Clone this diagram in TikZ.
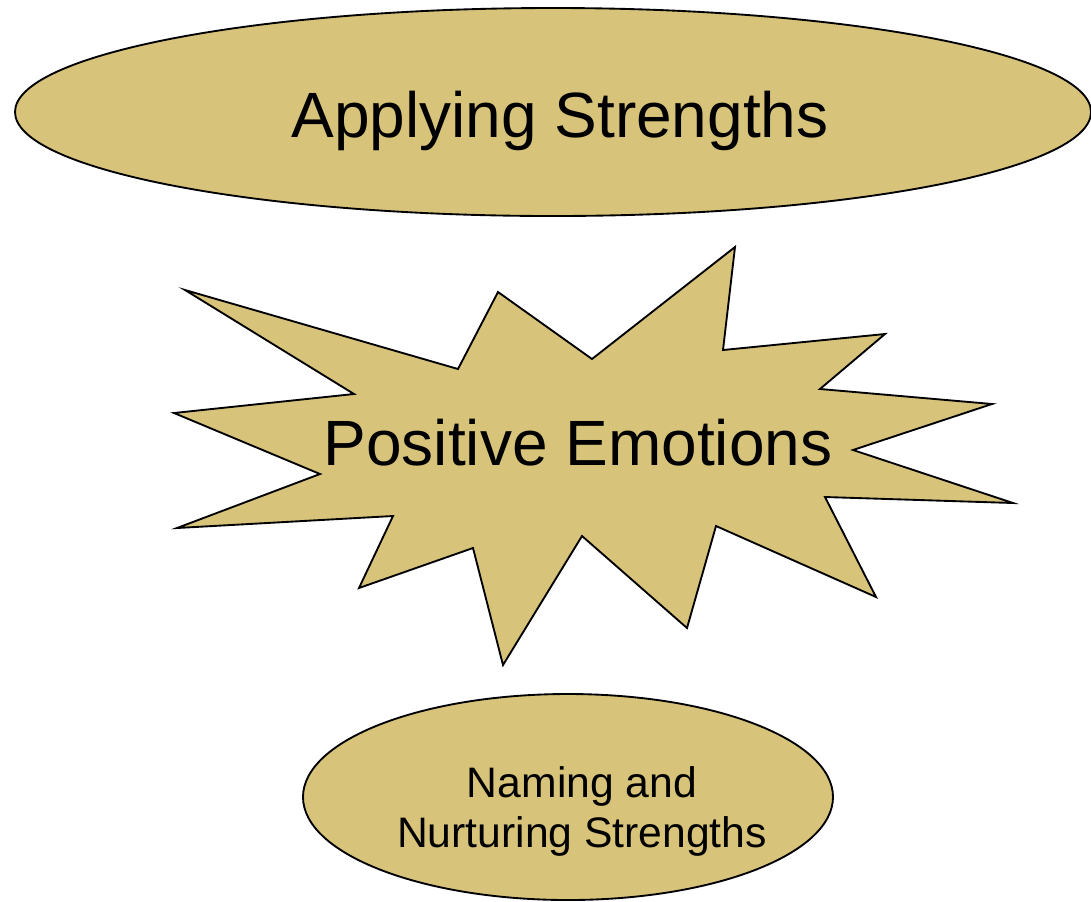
\documentclass[tikz,border=0pt]{standalone}
\usepackage{fontspec}
\setmainfont{Liberation Sans}
\usetikzlibrary{shapes.geometric}
\definecolor{sand}{RGB}{215,196,122}
\tikzset{
  blob/.style={draw=black, fill=sand, line width=1.4pt},
  oval/.style={blob, ellipse, inner sep=0pt},
}
\begin{document}
\begin{tikzpicture}[x=0.75pt, y=-0.75pt]
\useasboundingbox (0,0) rectangle (1091,901);
% top oval
\node[oval, minimum width=807pt, minimum height=156pt] (apply) at (553,112) {};
\node[anchor=base, font=\fontsize{48}{57}\selectfont] (applytext) at (560,137) {Applying Strengths};
% burst in the middle
\draw[blob] (185,290) -- (354,394) -- (174,413) -- (320,474) -- (177,528) -- (393,516)
-- (359,588) -- (473,548) -- (503,665) -- (582,536) -- (687,628) -- (716,526)
-- (876,597) -- (825,497) -- (1013,503) -- (853,450) -- (992,404) -- (820,389)
-- (885,334) -- (723,350) -- (735,247) -- (592,359) -- (498,292) -- (458,369) -- cycle;
\node[anchor=base, font=\fontsize{48}{57}\selectfont] (emotions) at (578,465) {Positive Emotions};
% bottom oval
\node[oval, minimum width=397.5pt, minimum height=154.5pt] (nurture) at (568,797) {};
\node[align=center, font=\fontsize{32}{37.5}\selectfont] (nurturetext) at (582,811) {Naming and\\Nurturing Strengths};
\end{tikzpicture}
\end{document}
